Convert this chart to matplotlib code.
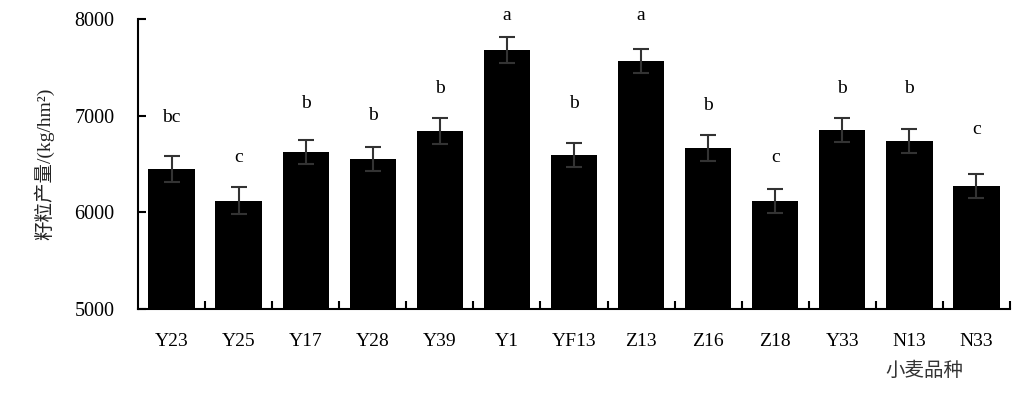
import matplotlib
matplotlib.use("Agg")
import matplotlib.pyplot as plt

plt.rcParams['font.family'] = ['Liberation Serif', 'Noto Sans CJK SC']

varieties = ["Y23", "Y25", "Y17", "Y28", "Y39", "Y1", "YF13", "Z13", "Z16", "Z18", "Y33", "N13", "N33"]
yield_mean = [6450, 6120, 6625, 6555, 6845, 7680, 6595, 7565, 6665, 6120, 6850, 6740, 6275]
yield_err = [135, 140, 125, 125, 135, 135, 125, 125, 135, 125, 125, 125, 125]
letters = ["bc", "c", "b", "b", "b", "a", "b", "a", "b", "c", "b", "b", "c"]
letter_y = [6976, 6563, 7131, 6997, 7286, 8031, 7131, 8031, 7100, 6563, 7286, 7286, 6852]

fig = plt.figure(figsize=(10.32, 3.94), dpi=100)
ax = fig.add_axes([0.1337, 0.2157, 0.845, 0.7361])

x = range(len(varieties))
ax.bar(x, yield_mean, width=0.69, color="black", zorder=2)
ax.errorbar(x, yield_mean, yerr=yield_err, fmt="none", ecolor="#333333",
            elinewidth=1.5, capsize=6, capthick=1.5, zorder=3)

for i, (lab, ly) in enumerate(zip(letters, letter_y)):
    ax.text(i, ly, lab, ha="center", va="center", fontsize=14, color="black")

ax.set_ylim(5000, 8000)
ax.set_xlim(-0.5, len(varieties) - 0.5)
ax.set_yticks([5000, 6000, 7000, 8000])
ax.set_xticks(x)
ax.set_xticklabels(varieties, fontsize=14)
ax.tick_params(axis="x", length=0, pad=17)
ax.tick_params(axis="y", direction="in", length=6, width=1.5, pad=17, labelsize=14.5)

# category separators on the x axis
ax.set_xticks([i + 0.5 for i in range(len(varieties))], minor=True)
ax.tick_params(axis="x", which="minor", direction="in", length=6, width=1.5)

ax.spines["top"].set_visible(False)
ax.spines["right"].set_visible(False)
ax.spines["left"].set_linewidth(1.5)
ax.spines["bottom"].set_linewidth(1.5)

ax.set_ylabel("籽粒产量/(kg/hm²)", fontsize=14, color="#222222", labelpad=14)
fig.text(0.896, 0.06, "小麦品种", fontsize=14, ha="center", va="center", color="#333333")

fig.savefig("out.png", dpi=100)
